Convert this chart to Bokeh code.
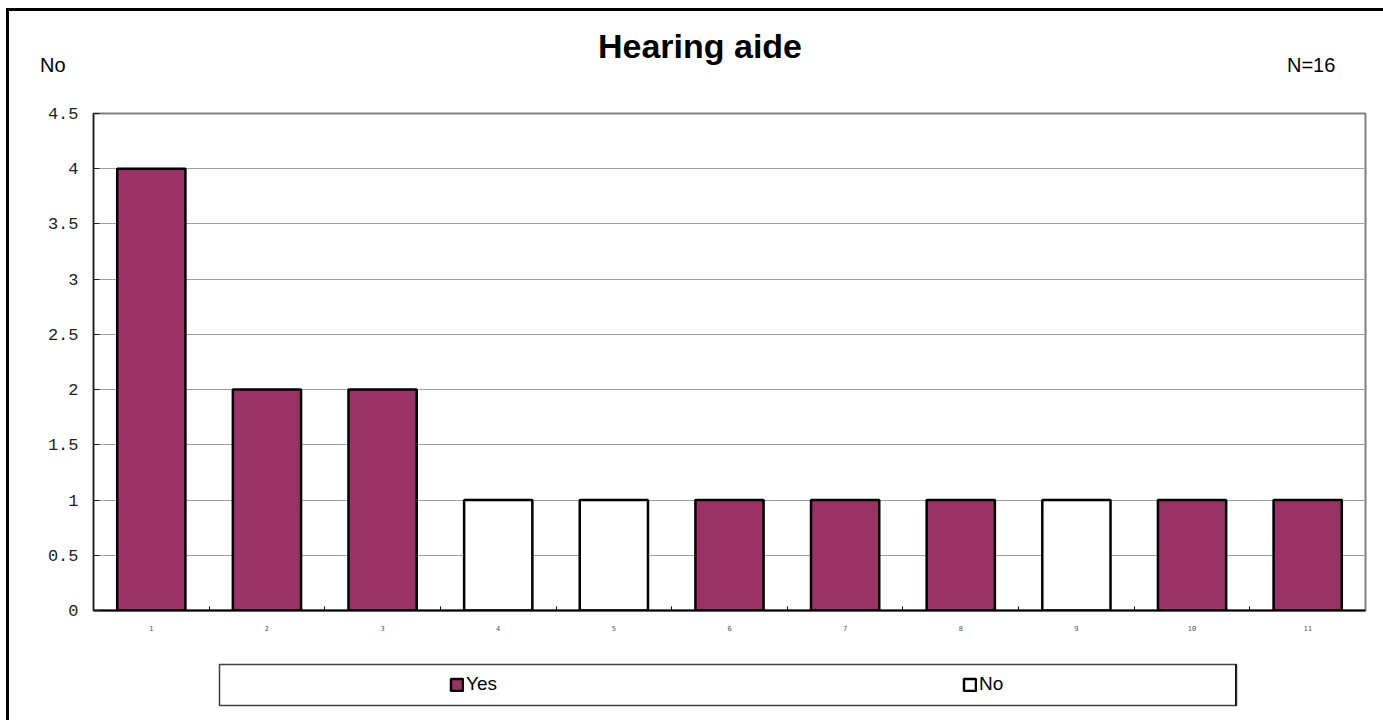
from bokeh.plotting import figure
from bokeh.models import (Range1d, FixedTicker, NumeralTickFormatter, Legend, LegendItem, Div)
from bokeh.layouts import column
from bokeh.embed import file_html
from bokeh.resources import INLINE

# ---- data ----
categories = ["1", "2", "3", "4", "5", "6", "7", "8", "9", "10", "11"]
counts = [4, 2, 2, 1, 1, 1, 1, 1, 1, 1, 1]
answers = ["Yes", "Yes", "Yes", "No", "No", "Yes", "Yes", "Yes", "No", "Yes", "Yes"]
y_ticks = [0, 0.5, 1, 1.5, 2, 2.5, 3, 3.5, 4, 4.5]
title_text = "Hearing aide"
y_unit_text = "No"
n_text = "N=16"
series_names = ["Yes", "No"]
series_colors = {"Yes": "#993366", "No": "#FFFFFF"}

positions = list(range(1, len(categories) + 1))
W = 1374

# ---- header (title and corner notes) ----
header_html = (
    '<div style="position:relative;width:%dpx;height:77px;line-height:1;'
    'font-family:\'Liberation Sans\',Arial,sans-serif;color:black;">'
    '<span style="position:absolute;left:691px;top:18px;transform:translateX(-50%%);'
    'font-size:34px;font-weight:bold;white-space:nowrap;">%s</span>'
    '<span style="position:absolute;left:31px;top:44px;font-size:20px;">%s</span>'
    '<span style="position:absolute;left:1278px;top:44px;font-size:20px;">%s</span>'
    '</div>' % (W, title_text, y_unit_text, n_text)
)
header = Div(text=header_html, width=W, height=77, margin=(0, 0, 0, 0))

# ---- main chart ----
p = figure(width=W, height=562, output_backend="svg", toolbar_location=None,
           x_range=Range1d(0.5, len(categories) + 0.5), y_range=Range1d(0, 4.5),
           min_border_left=84, min_border_right=18, min_border_top=25, min_border_bottom=40)
p.outline_line_color = "#808080"
p.outline_line_width = 2
p.background_fill_color = "white"
p.border_fill_color = "white"

for name in series_names:
    xs = [x for x, a in zip(positions, answers) if a == name]
    ys = [v for v, a in zip(counts, answers) if a == name]
    p.vbar(x=xs, top=ys, width=0.59, fill_color=series_colors[name],
           line_color="black", line_width=2.5)

p.xgrid.visible = False
p.ygrid.grid_line_color = "#a0a0a0"
p.ygrid.grid_line_width = 1
p.ygrid.ticker = FixedTicker(ticks=y_ticks)

p.yaxis.ticker = FixedTicker(ticks=y_ticks)
p.yaxis.formatter = NumeralTickFormatter(format="0.[0]")
p.yaxis.major_tick_in = 6
p.yaxis.major_tick_out = 0
p.yaxis.minor_tick_line_color = None
p.yaxis.axis_line_color = "#202020"
p.yaxis.axis_line_width = 1.5
p.yaxis.major_tick_line_color = "#202020"
p.yaxis.major_label_text_font = "Liberation Mono"
p.yaxis.major_label_text_font_size = "17px"
p.yaxis.major_label_text_color = "#222222"
p.yaxis.major_label_standoff = 15

p.xaxis.ticker = FixedTicker(ticks=positions,
                             minor_ticks=[x + 0.5 for x in positions[:-1]])
p.xaxis.major_label_overrides = {x: c for x, c in zip(positions, categories)}
p.xaxis.major_tick_in = 0
p.xaxis.major_tick_out = 0
p.xaxis.minor_tick_in = 4
p.xaxis.minor_tick_out = 0
p.xaxis.minor_tick_line_color = "black"
p.xaxis.axis_line_color = "black"
p.xaxis.axis_line_width = 2
p.xaxis.major_label_text_font = "DejaVu Sans Mono"
p.xaxis.major_label_text_font_size = "7px"
p.xaxis.major_label_text_color = "#555555"
p.xaxis.major_label_standoff = 14

# ---- legend strip ----
lf = figure(width=W, height=70, output_backend="svg", toolbar_location=None,
            x_range=Range1d(0, 1), y_range=Range1d(0, 1),
            x_axis_type=None, y_axis_type=None,
            min_border_left=210, min_border_right=147, min_border_top=14, min_border_bottom=15)
lf.xgrid.visible = False
lf.ygrid.visible = False
lf.outline_line_color = "#404040"
lf.outline_line_width = 1.5
lf.background_fill_color = "white"
lf.border_fill_color = "white"

items = []
for name in series_names:
    # swatch renderer, kept outside the visible range; only its legend glyph shows
    r = lf.vbar(x=[5], top=[1], width=0.5, fill_color=series_colors[name],
                line_color="black", line_width=2.5)
    items.append(LegendItem(label=name, renderers=[r]))

legend = Legend(items=items, orientation="horizontal", location=(230, 10),
                glyph_width=15, glyph_height=15, label_standoff=2, label_width=40,
                label_height=20, spacing=456, padding=0, margin=0,
                border_line_color=None, background_fill_alpha=0,
                label_text_font="Liberation Sans", label_text_font_size="19px",
                label_text_color="black")
lf.add_layout(legend)

for fig in (p, lf):
    if "frame_align" in fig.properties():
        fig.frame_align = False

layout = column(header, p, lf, spacing=0,
                styles={"border-left": "3px solid black", "border-top": "3px solid black",
                        "margin-left": "6px", "margin-top": "8px"})

open("out.html", "w").write(file_html(layout, INLINE))
